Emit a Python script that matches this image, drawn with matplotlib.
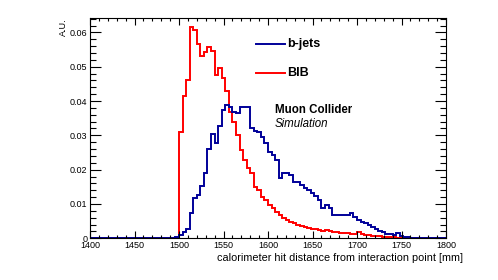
import numpy as np
import matplotlib
matplotlib.use('Agg')
import matplotlib.pyplot as plt
from matplotlib.ticker import MultipleLocator

plt.rcParams['font.family'] = ['Liberation Sans', 'DejaVu Sans']

# 4 mm bins from 1400 to 1800 mm
bin_edges = np.linspace(1400, 1800, 101)

bjets = [
    0, 0, 0, 0, 0, 0, 0, 0, 0, 0,
    0, 0, 0, 0, 0, 0, 0, 0, 0, 0,
    0, 0, 0, 0.0001, 0.0003, 0.0010, 0.0017, 0.0027, 0.0075, 0.0117,
    0.0125, 0.0152, 0.0190, 0.0260, 0.0303, 0.0277, 0.0327, 0.0374, 0.0389, 0.0384,
    0.0369, 0.0364, 0.0384, 0.0384, 0.0384, 0.0320, 0.0314, 0.0310, 0.0296, 0.0277,
    0.0252, 0.0243, 0.0228, 0.0175, 0.0190, 0.0190, 0.0185, 0.0165, 0.0165, 0.0155,
    0.0146, 0.0141, 0.0131, 0.0123, 0.0112, 0.0087, 0.0097, 0.0087, 0.0068, 0.0068,
    0.0068, 0.0068, 0.0068, 0.0073, 0.0063, 0.0053, 0.0048, 0.0046, 0.0040, 0.0032,
    0.0026, 0.0021, 0.0018, 0.0013, 0.0012, 0.0011, 0.0014, 0.0008, 0.0005, 0.0003,
    0.0001, 0, 0, 0, 0, 0, 0, 0, 0, 0,
]

bib = [
    0, 0, 0, 0, 0, 0, 0, 0, 0, 0,
    0, 0, 0, 0, 0, 0, 0, 0, 0, 0,
    0, 0, 0, 0, 0, 0.0311, 0.0415, 0.0460, 0.0615, 0.0607,
    0.0566, 0.0531, 0.0544, 0.0557, 0.0547, 0.0476, 0.0497, 0.0466, 0.0430, 0.0369,
    0.0340, 0.0300, 0.0257, 0.0228, 0.0204, 0.0190, 0.0150, 0.0141, 0.0121, 0.0112,
    0.0097, 0.0087, 0.0078, 0.0068, 0.0060, 0.0053, 0.0048, 0.0044, 0.0040, 0.0036,
    0.0033, 0.0030, 0.0028, 0.0026, 0.0023, 0.0021, 0.0025, 0.0020, 0.0018, 0.0017,
    0.0016, 0.0015, 0.0014, 0.0013, 0.0013, 0.0018, 0.0012, 0.0011, 0.0010, 0.0008,
    0.0007, 0.0006, 0.0005, 0.0004, 0.0003, 0.0003, 0.0002, 0.0001, 0, 0,
    0, 0, 0, 0, 0, 0, 0, 0, 0, 0,
]

blue = '#000099'
red = '#ff0000'

fig = plt.figure(figsize=(4.98, 2.8), dpi=100)
ax = fig.add_axes([90 / 498, 1 - 238.3 / 280, 356 / 498, 220 / 280])

ax.stairs(bib, bin_edges, color=red, linewidth=1.4, baseline=None)
ax.stairs(bjets, bin_edges, color=blue, linewidth=1.4, baseline=None)

ax.set_xlim(1400, 1800)
ax.set_ylim(0, 0.0641)
ax.xaxis.set_major_locator(MultipleLocator(50))
ax.xaxis.set_minor_locator(MultipleLocator(10))
ax.yaxis.set_major_locator(MultipleLocator(0.01))
ax.yaxis.set_minor_locator(MultipleLocator(0.002))
ax.set_yticks([0, 0.01, 0.02, 0.03, 0.04, 0.05, 0.06])
ax.set_yticklabels(['0', '0.01', '0.02', '0.03', '0.04', '0.05', '0.06'])

ax.tick_params(axis='both', which='both', direction='in', top=True, right=True,
               labelsize=6.5, width=0.8, color='black')
ax.tick_params(axis='x', which='major', length=5, pad=2)
ax.tick_params(axis='x', which='minor', length=2.5)
ax.tick_params(axis='y', which='major', length=8, pad=2)
ax.tick_params(axis='y', which='minor', length=4)
for s in ax.spines.values():
    s.set_linewidth(0.8)

fig.text(463 / 498, 1 - 258 / 280, 'calorimeter hit distance from interaction point [mm]',
         ha='right', va='center', fontsize=7.8)
fig.text(63 / 498, 1 - 18 / 280, 'A.U.', rotation=90, ha='center', va='top', fontsize=6.5)

# legend drawn by hand like the ROOT one
ax.plot([1587, 1619], [0.0565, 0.0565], color=blue, linewidth=1.4)
ax.text(1622, 0.0565, 'b-jets', fontsize=9, fontweight='bold', va='center')
ax.plot([1587, 1619], [0.0483, 0.0483], color=red, linewidth=1.4)
ax.text(1622, 0.0483, 'BIB', fontsize=9, fontweight='bold', va='center')

ax.text(1608, 0.0373, 'Muon Collider', fontsize=8.3, fontweight='bold', va='center')
ax.text(1608, 0.0333, 'Simulation', fontsize=8.3, fontstyle='italic', va='center')

fig.savefig('out.png', dpi=100)
